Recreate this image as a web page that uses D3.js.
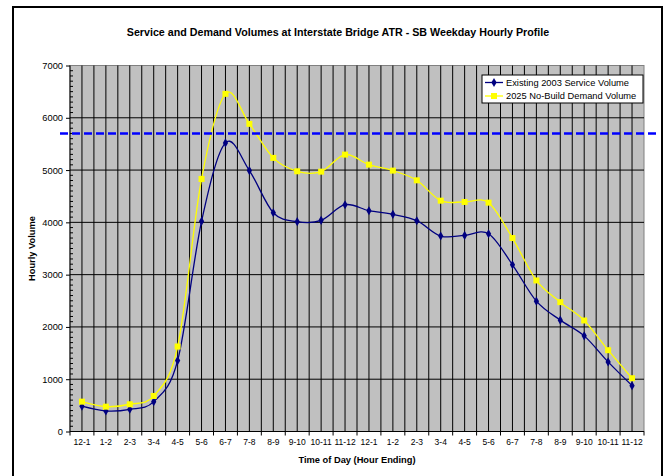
<!DOCTYPE html>
<html>
<head>
<meta charset="utf-8">
<script src="https://cdn.jsdelivr.net/npm/d3@7"></script>
<style>
  body { margin: 0; background: #fff; }
  text { font-family: "Liberation Sans", Arial, sans-serif; }
</style>
</head>
<body>
<div id="svgWrapper"></div>
<script>
// hour labels (AM then PM)
var hourLabels = ["12-1", "1-2", "2-3", "3-4", "4-5", "5-6", "6-7", "7-8", "8-9", "9-10", "10-11", "11-12",
  "12-1", "1-2", "2-3", "3-4", "4-5", "5-6", "6-7", "7-8", "8-9", "9-10", "10-11", "11-12"];

var serviceVolume = [483, 393, 425, 571, 1356, 4019, 5520, 4990, 4185, 4013, 4038, 4338,
  4223, 4153, 4032, 3738, 3751, 3783, 3189, 2493, 2130, 1829, 1331, 877];

var demandVolume = [571, 475, 521, 680, 1625, 4830, 6458, 5884, 5233, 4977, 4970, 5296,
  5104, 4990, 4804, 4415, 4390, 4377, 3700, 2889, 2474, 2123, 1555, 1019];

var capacityLine = 5700;
var yTicks = [0, 1000, 2000, 3000, 4000, 5000, 6000, 7000];

var seriesNames = ["Existing 2003 Service Volume", "2025 No-Build Demand Volume"];

var fullWidth = 664, fullHeight = 476;
var xLeft = 70, xRight = 644, yTop = 65.5, yBottom = 431.5;

var svg = d3.select("#svgWrapper")
  .append("svg")
  .attr("width", fullWidth)
  .attr("height", fullHeight);

// outer chart frame
svg.append("rect")
  .attr("x", 13).attr("y", 7)
  .attr("width", 649).attr("height", 480)
  .attr("fill", "white")
  .attr("stroke", "black")
  .attr("stroke-width", 2);

var xScale = d3.scaleBand()
  .domain(d3.range(hourLabels.length))
  .range([xLeft, xRight]);

var yScale = d3.scaleLinear()
  .domain([0, 7000])
  .range([yBottom, yTop]);

// plot background
svg.append("rect")
  .attr("x", xLeft).attr("y", yTop)
  .attr("width", xRight - xLeft).attr("height", yBottom - yTop)
  .attr("fill", "#c0c0c0")
  .attr("stroke", "#808080")
  .attr("stroke-width", 1);

// vertical grid - every half category
var grid = svg.append("g").attr("class", "grid");
var step = xScale.step();
for (var i = 1; i < hourLabels.length * 2; i++) {
  var gx = xLeft + i * step / 2;
  grid.append("line")
    .attr("x1", gx).attr("x2", gx)
    .attr("y1", yTop).attr("y2", yBottom)
    .attr("stroke", "black")
    .attr("stroke-width", 1);
}
// horizontal grid
yTicks.forEach(function(t) {
  if (t == 0 || t == 7000) return;
  grid.append("line")
    .attr("x1", xLeft).attr("x2", xRight)
    .attr("y1", yScale(t)).attr("y2", yScale(t))
    .attr("stroke", "black")
    .attr("stroke-width", 1);
});

// y axis
var yAxis = svg.append("g")
  .attr("transform", "translate(" + xLeft + ",0)")
  .call(d3.axisLeft(yScale).tickValues(yTicks).tickSize(4).tickPadding(3).tickFormat(d3.format("d")));
yAxis.select(".domain").attr("d", "M0," + yBottom + "V" + yTop);
yAxis.selectAll("text").style("font-size", "9.3px").attr("fill", "black");

// minor ticks on the inside
var minor = d3.range(0, 7001, 100).filter(function(v) { return v % 1000 != 0; });
svg.append("g").selectAll("line")
  .data(minor).enter().append("line")
  .attr("x1", xLeft).attr("x2", xLeft + 3)
  .attr("y1", function(d) { return yScale(d); })
  .attr("y2", function(d) { return yScale(d); })
  .attr("stroke", "black");

// x axis
var xAxis = svg.append("g")
  .attr("transform", "translate(0," + yBottom + ")")
  .call(d3.axisBottom(xScale).tickSize(0).tickPadding(7).tickFormat(function(d) { return hourLabels[d]; }));
xAxis.select(".domain").attr("d", "M" + xLeft + ",0H" + xRight);
xAxis.selectAll("text").style("font-size", "8.5px").attr("fill", "black");
// ticks at category boundaries
svg.append("g").selectAll("line")
  .data(d3.range(hourLabels.length + 1)).enter().append("line")
  .attr("x1", function(d) { return xLeft + d * step; })
  .attr("x2", function(d) { return xLeft + d * step; })
  .attr("y1", yBottom).attr("y2", yBottom + 4)
  .attr("stroke", "black");

// smooth lines
function lineGen() {
  return d3.line()
    .x(function(d, i) { return xScale(i) + xScale.bandwidth() / 2; })
    .y(function(d) { return yScale(d); })
    .curve(d3.curveCardinal.tension(0));
}

svg.append("path")
  .datum(serviceVolume)
  .attr("d", lineGen())
  .attr("fill", "none")
  .attr("stroke", "#000080")
  .attr("stroke-width", 1.3);

svg.append("path")
  .datum(demandVolume)
  .attr("d", lineGen())
  .attr("fill", "none")
  .attr("stroke", "#ffff00")
  .attr("stroke-width", 1.3);

// markers
svg.append("g").selectAll("path")
  .data(serviceVolume).enter().append("path")
  .attr("d", d3.symbol().type(d3.symbolDiamond).size(24))
  .attr("transform", function(d, i) {
    return "translate(" + (xScale(i) + xScale.bandwidth() / 2) + "," + yScale(d) + ")";
  })
  .attr("fill", "#000080");

svg.append("g").selectAll("rect")
  .data(demandVolume).enter().append("rect")
  .attr("x", function(d, i) { return xScale(i) + xScale.bandwidth() / 2 - 3; })
  .attr("y", function(d) { return yScale(d) - 3; })
  .attr("width", 6).attr("height", 6)
  .attr("fill", "#ffff00");

// capacity dashed line
svg.append("line")
  .attr("x1", 60).attr("x2", 657)
  .attr("y1", yScale(capacityLine)).attr("y2", yScale(capacityLine))
  .attr("stroke", "#0000ff")
  .attr("stroke-width", 2.5)
  .attr("stroke-dasharray", "8,4");

// legend
var legend = svg.append("g");
legend.append("rect")
  .attr("x", 482).attr("y", 75)
  .attr("width", 161).attr("height", 28)
  .attr("fill", "white")
  .attr("stroke", "black")
  .attr("stroke-width", 1);

var legendColors = ["#000080", "#ffff00"];
for (var p = 0; p < seriesNames.length; p++) {
  var ly = 82.5 + p * 13.5;
  legend.append("line")
    .attr("x1", 485).attr("x2", 503)
    .attr("y1", ly).attr("y2", ly)
    .attr("stroke", legendColors[p])
    .attr("stroke-width", 1.3);
  if (p == 0) {
    legend.append("path")
      .attr("d", d3.symbol().type(d3.symbolDiamond).size(24))
      .attr("transform", "translate(494," + ly + ")")
      .attr("fill", legendColors[p]);
  } else {
    legend.append("rect")
      .attr("x", 491).attr("y", ly - 3)
      .attr("width", 6).attr("height", 6)
      .attr("fill", legendColors[p]);
  }
  legend.append("text")
    .attr("x", 506)
    .attr("y", ly + 3.3)
    .style("font-size", "9.3px")
    .style("fill", "black")
    .text(seriesNames[p]);
}

// titles
svg.append("text")
  .attr("x", 338).attr("y", 36)
  .style("text-anchor", "middle")
  .style("font-size", "10.7px")
  .style("font-weight", "bold")
  .text("Service and Demand Volumes at Interstate Bridge ATR - SB Weekday Hourly Profile");

svg.append("text")
  .attr("x", 357).attr("y", 463)
  .style("text-anchor", "middle")
  .style("font-size", "9.3px")
  .style("font-weight", "bold")
  .text("Time of Day (Hour Ending)");

svg.append("text")
  .attr("transform", "translate(35," + ((yTop + yBottom) / 2) + ") rotate(-90)")
  .style("text-anchor", "middle")
  .style("font-size", "9.3px")
  .style("font-weight", "bold")
  .text("Hourly Volume");
</script>
</body>
</html>
